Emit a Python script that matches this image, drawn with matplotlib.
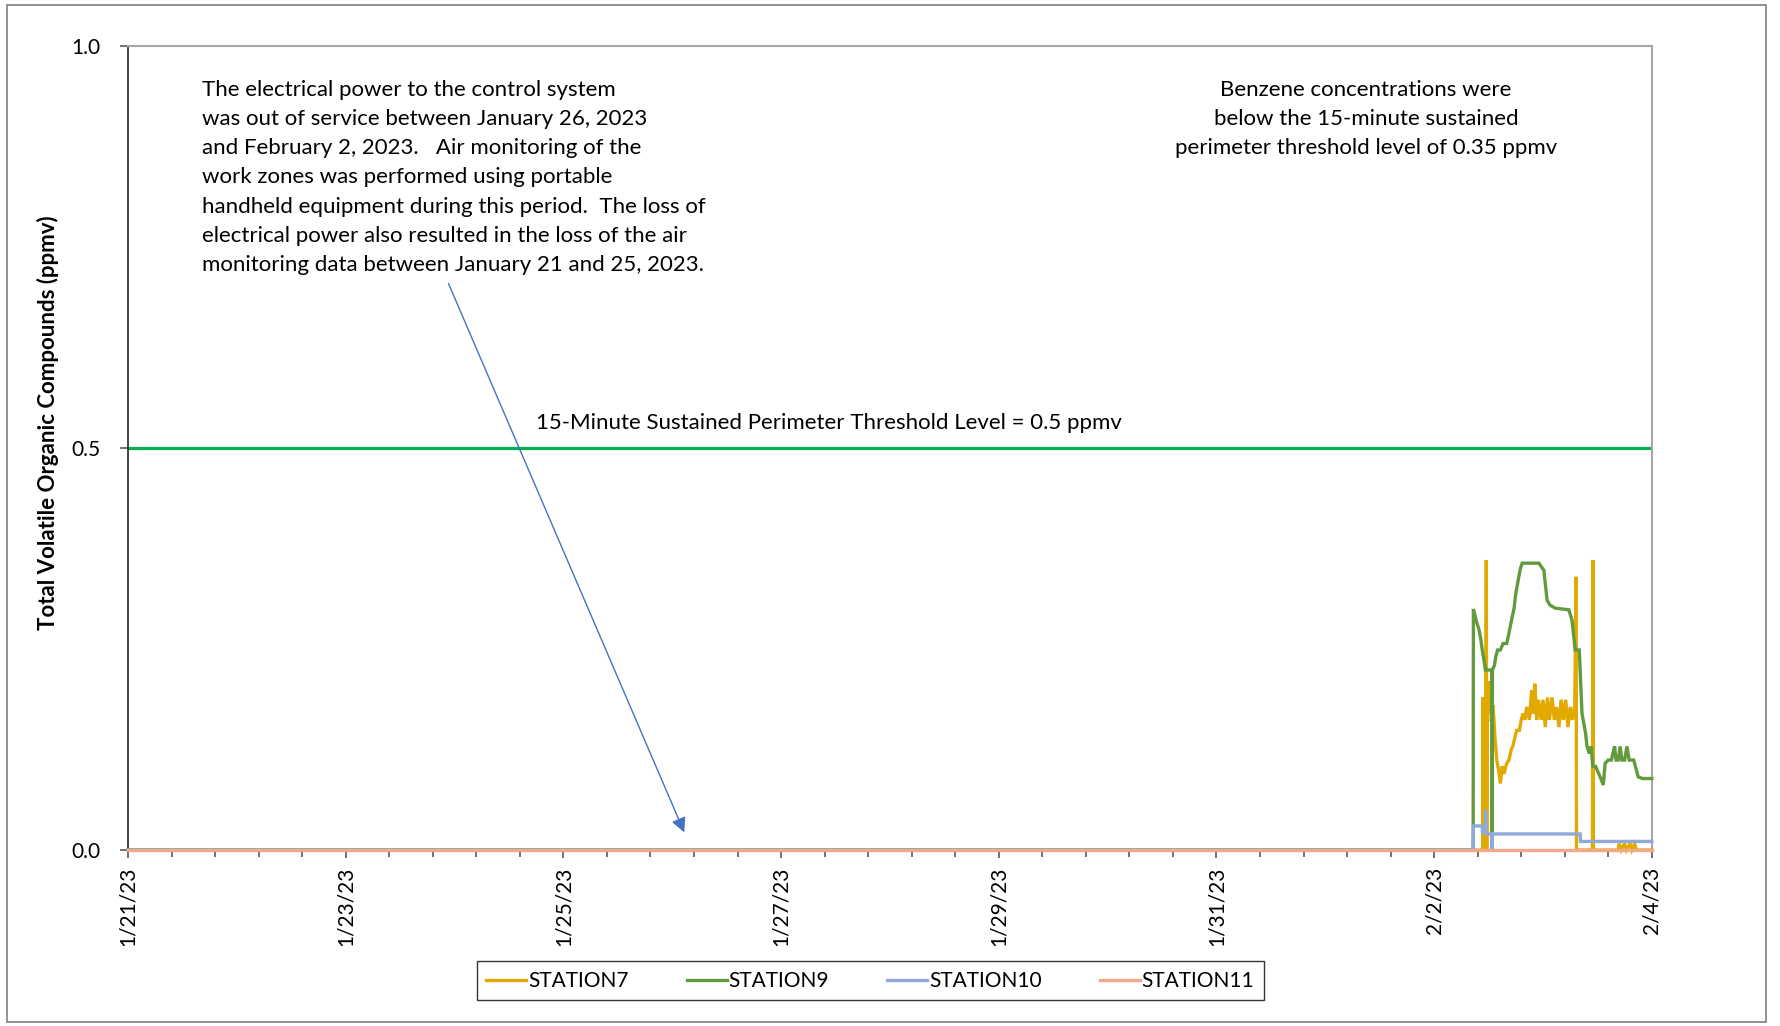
import numpy as np
import pandas as pd
import matplotlib
matplotlib.use("Agg")
import matplotlib.pyplot as plt
from matplotlib.patches import Rectangle

plt.rcParams['font.family'] = ['Lato', 'DejaVu Sans']

# hours after 2/2/23 00:00 and TVOC readings (ppmv)
start_hours = -288.0   # 1/21/23 00:00

s7_hours = [start_hours, 10.7, 10.8, 10.9, 11.0, 11.4, 11.5, 11.6, 11.7, 12.0, 12.3, 12.6, 13.0,
            13.4, 13.8, 14.2, 14.6, 15.0, 15.4, 16.0, 16.5, 17.0, 17.4, 17.8, 18.2, 18.8,
            19.2, 19.6, 20.0, 20.4, 21.0, 21.5, 21.8, 22.2, 22.6, 23.0, 23.6, 24.0, 24.5,
            25.0, 25.4, 26.0, 26.5, 27.0, 27.5, 28.0, 28.5, 29.0, 29.5, 30.0, 30.5, 31.0,
            31.3, 31.4, 34.9, 35.0, 35.1, 40.6, 40.8, 41.2, 42.0, 42.4, 43.2, 43.6, 44.2,
            44.6, 48.0]
s7_vals = [0.0, 0.0, 0.19, 0.0, 0.15, 0.17, 0.361, 0.0, 0.20, 0.17, 0.21, 0.16, 0.18,
           0.141, 0.112, 0.100, 0.083, 0.104, 0.095, 0.108, 0.112, 0.125, 0.130, 0.140, 0.149, 0.149,
           0.162, 0.170, 0.162, 0.178, 0.162, 0.199, 0.170, 0.207, 0.162, 0.187, 0.162, 0.187, 0.153,
           0.190, 0.162, 0.190, 0.162, 0.178, 0.153, 0.187, 0.162, 0.187, 0.153, 0.178, 0.162, 0.180,
           0.340, 0.0, 0.0, 0.361, 0.0, 0.0, 0.008, 0.0, 0.008, 0.0, 0.008, 0.0, 0.008,
           0.0, 0.0]

s9_hours = [start_hours, 8.6, 8.65, 9.3, 9.9, 10.3, 10.6, 11.0, 11.3, 12.0, 12.75, 12.8, 12.85,
            13.3, 13.6, 14.0, 14.6, 15.2, 16.0, 16.5, 17.2, 17.6, 18.0, 18.5, 19.0, 19.4,
            23.1, 24.2, 24.9, 25.5, 26.7, 29.7, 30.4, 31.1, 32.0, 32.6, 33.4, 33.7, 34.2,
            34.6, 35.0, 35.6, 36.6, 37.3, 37.7, 38.4, 39.1, 39.4, 39.8, 40.1, 40.6, 41.0,
            41.4, 42.0, 42.5, 43.0, 44.0, 45.0, 46.0, 48.0]
s9_vals = [0.0, 0.0, 0.300, 0.285, 0.274, 0.262, 0.249, 0.236, 0.224, 0.224, 0.224, 0.0, 0.224,
           0.230, 0.241, 0.249, 0.249, 0.257, 0.257, 0.270, 0.290, 0.300, 0.319, 0.335, 0.350, 0.357,
           0.357, 0.348, 0.311, 0.305, 0.301, 0.299, 0.286, 0.249, 0.249, 0.170, 0.145, 0.129, 0.120,
           0.129, 0.104, 0.104, 0.091, 0.081, 0.108, 0.112, 0.112, 0.120, 0.129, 0.112, 0.112, 0.129,
           0.112, 0.112, 0.129, 0.112, 0.112, 0.091, 0.089, 0.089]

s10_hours = [start_hours, 8.6, 8.65, 10.6, 10.65, 11.3, 11.35, 11.45, 12.75, 12.8, 12.85,
             32.2, 32.3, 48.0]
s10_vals = [0.0, 0.0, 0.030, 0.030, 0.022, 0.022, 0.050, 0.020, 0.020, 0.0, 0.020,
            0.020, 0.0107, 0.0107]

s11_hours = [start_hours, 48.0]
s11_vals = [0.0, 0.0]

station_names = ['STATION7', 'STATION9', 'STATION10', 'STATION11']
station_colours = ['#E2A900', '#619B3D', '#8FA9DB', '#F2A98B']
threshold = 0.5

base = pd.Timestamp('2023-02-02')


def to_dates(hours):
    return base + pd.to_timedelta(np.array(hours), unit='h')


fig = plt.figure(figsize=(17.8, 10.26), dpi=100)
fig.patches.append(Rectangle((0.004, 0.004), 0.988, 0.991, transform=fig.transFigure,
                             fill=False, edgecolor='#7f7f7f', linewidth=1.2))
ax = fig.add_axes([0.0719, 0.1715, 0.8561, 0.7832])

series = [(s7_hours, s7_vals), (s9_hours, s9_vals), (s10_hours, s10_vals), (s11_hours, s11_vals)]
for (hrs, vals), name, col in zip(series, station_names, station_colours):
    ax.plot(to_dates(hrs), vals, color=col, linewidth=2.4, label=name,
            solid_joinstyle='miter', zorder=3, clip_on=False)

ax.axhline(threshold, color='#00B050', linewidth=2.3, zorder=1)

x0 = pd.Timestamp('2023-01-21')
x1 = pd.Timestamp('2023-02-04')
ax.set_xlim(x0, x1)
ax.set_ylim(0, 1.0)
ax.set_yticks([0.0, 0.5, 1.0])
ax.set_yticklabels(['0.0', '0.5', '1.0'])

major = pd.date_range(x0, x1, freq='2D')
minor = pd.date_range(x0, x1, freq='9.6h')
ax.set_xticks(major)
ax.set_xticklabels([f"{d.month}/{d.day}/{d.strftime('%y')}" for d in major], rotation=90)
ax.set_xticks(minor, minor=True)
ax.tick_params(axis='x', which='major', length=6, width=1.2, color='#595959', labelsize=15, pad=6)
ax.tick_params(axis='x', which='minor', length=5, width=1.2, color='#595959')
ax.tick_params(axis='y', length=6, width=1.2, color='#595959', labelsize=15, pad=14)

for side in ['top', 'right']:
    ax.spines[side].set_color('#a6a6a6')
    ax.spines[side].set_linewidth(1.5)
for side in ['left', 'bottom']:
    ax.spines[side].set_color('#262626')
    ax.spines[side].set_linewidth(1.2)

fig.text(0.027, 0.588, 'Total Volatile Organic Compounds (ppmv)', rotation=90,
         fontsize=16, fontweight='bold', ha='center', va='center')

note = ("The electrical power to the control system\n"
        "was out of service between January 26, 2023\n"
        "and February 2, 2023.   Air monitoring of the\n"
        "work zones was performed using portable\n"
        "handheld equipment during this period.  The loss of\n"
        "electrical power also resulted in the loss of the air\n"
        "monitoring data between January 21 and 25, 2023.")
fig.text(0.1135, 0.922, note, fontsize=16, ha='left', va='top', linespacing=1.57)

fig.text(0.7675, 0.922, "Benzene concentrations were\nbelow the 15-minute sustained\n"
         "perimeter threshold level of 0.35 ppmv", fontsize=16, ha='center', va='top',
         linespacing=1.57)

ax.text(0.46, 0.531, '15-Minute Sustained Perimeter Threshold Level = 0.5 ppmv',
        transform=ax.transAxes, fontsize=16, ha='center', va='center')

ax.annotate('', xy=(pd.Timestamp('2023-01-26 02:40'), 0.022),
            xytext=(pd.Timestamp('2023-01-23 22:40'), 0.705),
            arrowprops=dict(arrowstyle='-|>', color='#4472C4', lw=1.0,
                            mutation_scale=22, shrinkA=0, shrinkB=0))

leg = fig.legend(loc='center', bbox_to_anchor=(0.489, 0.044), ncol=4, fontsize=15,
                 frameon=True, fancybox=False, edgecolor='black', handlelength=1.9,
                 handletextpad=0.1, columnspacing=2.8, borderpad=0.45)
leg.get_frame().set_linewidth(1.0)

fig.savefig('out.png', dpi=100)
